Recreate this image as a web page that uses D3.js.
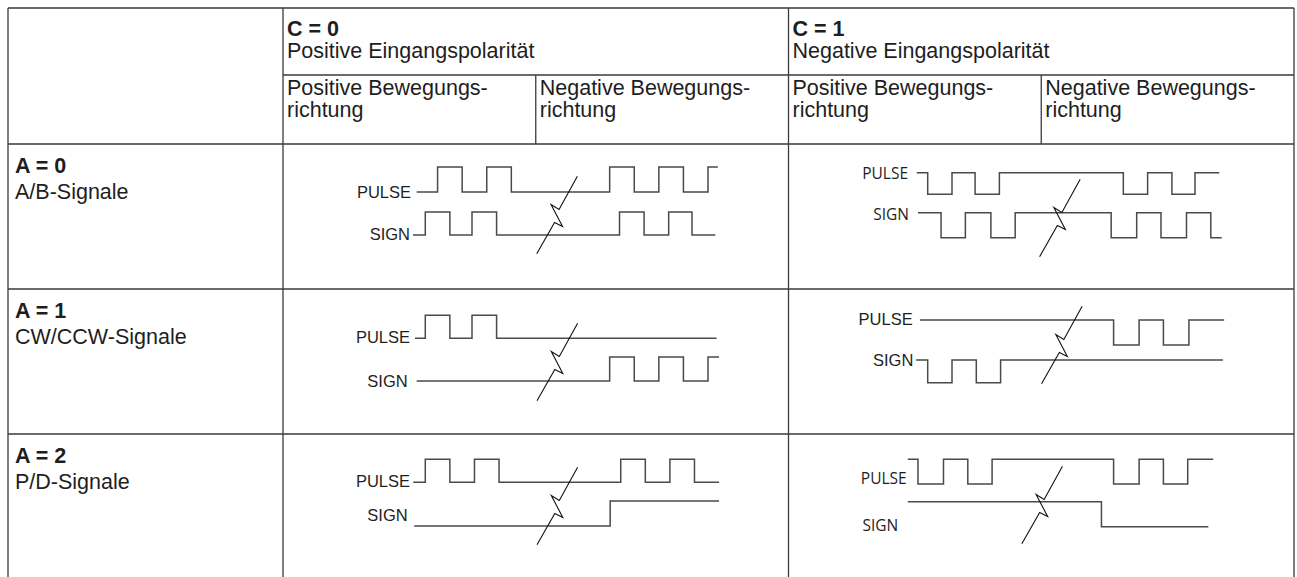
<!DOCTYPE html>
<html><head><meta charset="utf-8">
<script src="https://cdn.jsdelivr.net/npm/d3@7"></script>
<style>
body{margin:0;background:#fff}
svg{display:block}
</style>
</head><body>
<svg id="chart" width="1297" height="577"></svg>
<script>
// ---------- data ----------
const polarities = ["C = 0", "C = 1"];
const polarityNames = ["Positive Eingangspolarität", "Negative Eingangspolarität"];
const directionLines = [["Positive Bewegungs-", "richtung"], ["Negative Bewegungs-", "richtung"]];
const modes = ["A = 0", "A = 1", "A = 2"];
const modeNames = ["A/B-Signale", "CW/CCW-Signale", "P/D-Signale"];
const signalNames = ["PULSE", "SIGN"];

// waveforms in half-period time units: start, end, initial level, toggle times
const pulseA0C0 = {start: 0.15, end: 12.4, init: 0, edges: [1, 2, 3, 4, 8, 9, 10, 11, 12]};
const signA0C0  = {start: 0, end: 12.3, init: 0, edges: [0.5, 1.5, 2.4, 3.4, 8.4, 9.4, 10.4, 11.35]};
const pulseA0C1 = {start: 0.55, end: 13, init: 1, edges: [1, 2, 2.95, 3.95, 9.05, 10.05, 11.05, 12]};
const signA0C1  = {start: 0.6, end: 13.1, init: 1, edges: [1.55, 2.55, 3.6, 4.6, 8.55, 9.6, 10.6, 11.65, 12.65]};
const pulseA1C0 = {start: 0.08, end: 12.35, init: 0, edges: [0.5, 1.5, 2.4, 3.4]};
const signA1C0  = {start: 0.15, end: 12.45, init: 0, edges: [8, 9, 10, 11, 12]};
const pulseA1C1 = {start: 0.68, end: 13.2, init: 1, edges: [8.65, 9.7, 10.7, 11.75]};
const signA1C1  = {start: 0.52, end: 13.15, init: 1, edges: [1, 2, 3, 4]};
const pulseA2C0 = {start: 0.01, end: 12.45, init: 0, edges: [0.5, 1.5, 2.5, 3.5, 8.45, 9.45, 10.45, 11.45]};
const signA2C0  = {start: 0.05, end: 12.45, init: 0, edges: [8.02]};
const pulseA2C1 = {start: 0.18, end: 12.75, init: 1, edges: [0.6, 1.65, 2.65, 3.65, 8.65, 9.7, 10.7, 11.7]};
const signA2C1  = {start: 0.18, end: 12.55, init: 1, edges: [8.15]};
// position of the time break in each diagram (time units)
const breakTimes = [[5.86, 6.44], [5.87, 6.52], [5.87, 5.71]];

const waves = [
  [[pulseA0C0, signA0C0], [pulseA0C1, signA0C1]],
  [[pulseA1C0, signA1C0], [pulseA1C1, signA1C1]],
  [[pulseA2C0, signA2C0], [pulseA2C1, signA2C1]]
];

// ---------- layout ----------
const W = 1297, H = 577;
const svg = d3.select("#chart");
const L = 8, R = 1294, T = 8;
const labelColRight = 283;
const ink = "#1e1e1e", rule = "#3a3a3a", waveInk = "#4a4a4a";
const FS = 21.5;
const sansFont = "'Liberation Sans', Arial, Helvetica, sans-serif";

const subX = d3.scaleBand().domain(d3.range(4)).range([labelColRight, R]);
const polX = d3.scaleBand().domain(d3.range(2)).range([labelColRight, R]);
const headerMid = 75, headerBottom = 144;
const rowY = d3.scaleBand().domain(d3.range(modes.length)).range([headerBottom, headerBottom + 3 * 145]);

// table rules
const g = svg.append("g").attr("stroke", rule).attr("stroke-width", 1.3).attr("fill", "none");
const hl = (x1, x2, y) => g.append("line").attr("x1", x1).attr("x2", x2).attr("y1", y).attr("y2", y);
const vl = (x, y1, y2) => g.append("line").attr("x1", x).attr("x2", x).attr("y1", y1).attr("y2", y2);
hl(L, R, T);
hl(labelColRight, R, headerMid);
hl(L, R, headerBottom);
modes.forEach((m, i) => { if (i > 0) hl(L, R, rowY(i)); });
vl(L, T, H + 5); vl(R, T, H + 5);
vl(labelColRight, T, H + 5);
vl(polX(1), T, H + 5);
[1, 3].forEach(i => vl(subX(i), headerMid, headerBottom));

// table text
const txt = svg.append("g").attr("font-family", sansFont).attr("fill", ink).attr("font-size", FS);
function put(x, y, s, bold) {
  txt.append("text").attr("x", x).attr("y", y).attr("font-weight", bold ? "bold" : null).text(s);
}
polarities.forEach((p, i) => {
  const x = polX(i) + 4;
  put(x, 36, p, true);
  put(x, 58, polarityNames[i]);
});
d3.range(4).forEach(i => {
  directionLines[i % 2].forEach((s, k) => put(subX(i) + 4, 95 + k * 22, s));
});
modes.forEach((m, i) => {
  put(15, rowY(i) + 29, m, true);
  put(15, rowY(i) + 55, modeNames[i]);
});

// diagram layout per polarity column (time -> x)
const timeX = [
  d3.scaleLinear().domain([0, 12]).range([413, 708]),
  d3.scaleLinear().domain([0, 12]).range([903.4, 1195])
];
// per-cell vertical layout relative to row top: low levels of PULSE/SIGN, amplitude, break centre, label anchors
const cellLayout = [
  [ {low: [48, 91], amp: [25, 23], brkY: 71, lab: [[411, 48], [410, 90]], font: sansFont},
    {low: [50.3, 93.7], amp: [21.6, 25], brkY: 74, lab: [[908, 29], [909, 70]], font: "'Open Sans', sans-serif"} ],
  [ {low: [49.3, 92], amp: [23, 24], brkY: 73, lab: [[410, 48], [407.7, 92]], font: sansFont},
    {low: [56, 93.7], amp: [25, 22.7], brkY: 56, lab: [[912.7, 30], [913.3, 70.5]], font: sansFont} ],
  [ {low: [48.3, 92], amp: [23, 25], brkY: 72, lab: [[410, 47], [407.7, 80.5]], font: sansFont},
    {low: [50, 92.7], amp: [24.7, 25], brkY: 71, lab: [[906.7, 44], [898.3, 91]], font: "'Open Sans', sans-serif"} ]
];

function wavePoints(w) {
  let lvl = w.init;
  const pts = [[w.start, lvl]];
  w.edges.forEach(e => { pts.push([e, lvl]); lvl = 1 - lvl; pts.push([e, lvl]); });
  pts.push([w.end, lvl]);
  return pts;
}
// break symbol shape (relative offsets in px)
const breakShape = [[20.3, -38.7], [2, -5.5], [-6, -10.5], [5.5, 11.5], [-2.5, 7.5], [-20.3, 38.7]];

const dg = svg.append("g");
modes.forEach((m, r) => {
  const top = rowY(r);
  [0, 1].forEach(c => {
    const lay = cellLayout[r][c];
    const xs = timeX[c];
    waves[r][c].forEach((w, s) => {
      const y = d3.scaleLinear().domain([0, 1]).range([top + lay.low[s], top + lay.low[s] - lay.amp[s]]);
      const line = d3.line().x(d => xs(d[0])).y(d => y(d[1]));
      dg.append("path").attr("d", line(wavePoints(w)))
        .attr("fill", "none").attr("stroke", waveInk).attr("stroke-width", 1.5);
      dg.append("text").attr("x", lay.lab[s][0]).attr("y", top + lay.lab[s][1])
        .attr("dominant-baseline", "central").attr("text-anchor", "end")
        .attr("font-family", lay.font).attr("font-size", lay.font === sansFont ? 16.5 : 15.5)
        .attr("fill", ink).text(signalNames[s]);
    });
    const cx = xs(breakTimes[r][c]), cy = top + lay.brkY;
    dg.append("path").attr("d", d3.line()(breakShape.map(p => [cx + p[0], cy + p[1]])))
      .attr("fill", "none").attr("stroke", "#111").attr("stroke-width", 1.1);
  });
});
</script>
</body></html>
